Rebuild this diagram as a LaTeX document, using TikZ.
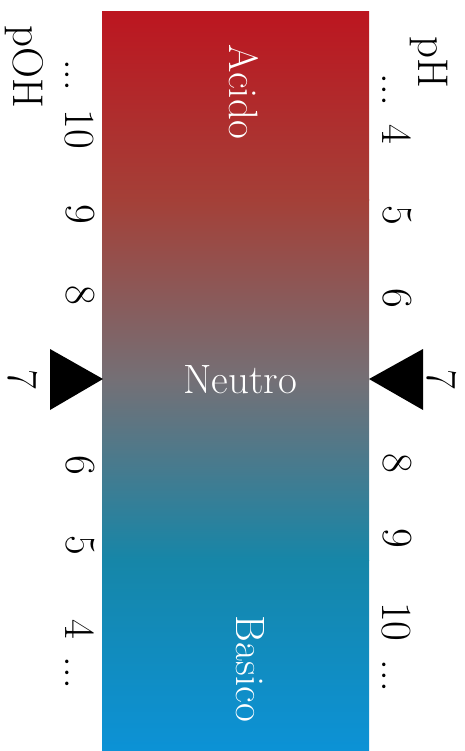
\documentclass[tikz,border=0pt]{standalone}
\definecolor{c0}{RGB}{188,22,32}
\definecolor{c1}{RGB}{164,64,56}
\definecolor{c2}{RGB}{116,112,118}
\definecolor{c3}{RGB}{22,134,168}
\definecolor{c4}{RGB}{12,146,214}
\begin{document}
\begin{tikzpicture}[x=1pt,y=-1pt,
  lbl/.style={font=\fontsize{43}{50}\selectfont, inner sep=0pt, rotate=-90, text=black},
  wlbl/.style={font=\fontsize{41}{48}\selectfont, inner sep=0pt, text=white},
  tri/.style={fill=black}]
\useasboundingbox (0,0) rectangle (465,751);
% gradient bar
\shade[top color=c0,bottom color=c1] (102,12) rectangle (369,200.5);
\shade[top color=c1,bottom color=c2] (102,200) rectangle (369,380.5);
\shade[top color=c2,bottom color=c3] (102,380) rectangle (369,560.5);
\shade[top color=c3,bottom color=c4] (102,560) rectangle (369,751);
% bar texts
\node[wlbl, rotate=-90, anchor=base] (acido) at (229,92) {Acido};
\node[wlbl, anchor=center] (neutro) at (240,380) {Neutro};
\node[wlbl, rotate=-90, anchor=base] (basico) at (236,669) {Basico};
% triangles
\fill[tri] (50,349) -- (50,410) -- (103,379) -- cycle;
\fill[tri] (423,349) -- (423,410) -- (369,379) -- cycle;
% left scale (pOH)
\node[lbl, anchor=base] (poh) at (13,67) {pOH};
\node[lbl, anchor=base east] (l10) at (65,149) {...\hspace{0.42em}10};
\node[lbl, anchor=base] (l9) at (66,214) {9};
\node[lbl, anchor=base] (l8) at (66,295) {8};
\node[lbl, anchor=base] (l7) at (9,379) {7};
\node[lbl, anchor=base] (l6) at (66,465) {6};
\node[lbl, anchor=base] (l5) at (66,545) {5};
\node[lbl, anchor=base west] (l4) at (65,619) {4\hspace{0.42em}...};
% right scale (pH)
\node[lbl, anchor=base] (ph) at (418,62) {pH};
\node[lbl, anchor=base east] (r4) at (382,144) {...\hspace{0.42em}4};
\node[lbl, anchor=base] (r5) at (383,215) {5};
\node[lbl, anchor=base] (r6) at (383,298) {6};
\node[lbl, anchor=base] (r7) at (427,379) {7};
\node[lbl, anchor=base] (r8) at (383,463) {8};
\node[lbl, anchor=base] (r9) at (383,538) {9};
\node[lbl, anchor=base west] (r10) at (382,602) {10\hspace{0.42em}...};
\end{tikzpicture}
\end{document}
